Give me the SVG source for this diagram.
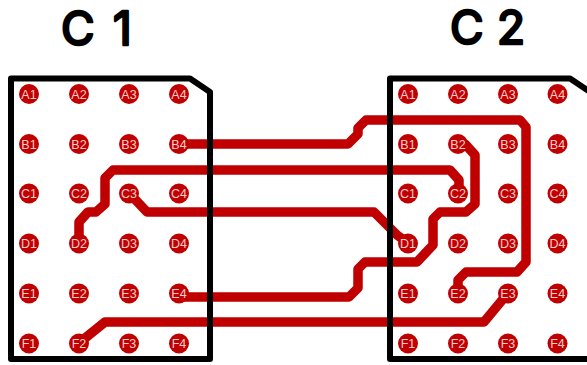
<svg xmlns="http://www.w3.org/2000/svg" width="587" height="365" viewBox="0 0 587 365">
<style>
.tr{fill:none;stroke:#c00000;stroke-width:9.500;stroke-linejoin:round;stroke-linecap:round}
.box{fill:none;stroke:#000;stroke-width:6;stroke-linejoin:round}
.pad{fill:#c00000}
.pl{font-family:"Liberation Sans",Arial,sans-serif;font-size:12.500px;fill:#ffcccc;text-anchor:middle}
.ti{font-family:Inter,sans-serif;font-size:46px;fill:#000;stroke:#000;stroke-width:2.500px;stroke-linejoin:round}
</style>
<rect width="587" height="365" fill="#fff"/>
<g id="connectors">
<path class="tr" d="M179,144H348L358,134V128L366,120H520L526,127V262L517,272H466L458,280V293"/>
<path class="tr" d="M79,243V222L88,212H96L105,204V178L113,170H450L459,180V193"/>
<path class="tr" d="M129,193L147,212H374L397,235L408,243"/>
<path class="tr" d="M458,144H465L475,155V204L466,212H440L433,219V245L417,262H365L358,269V288L349,297H179"/>
<path class="tr" d="M508,293L484,322H105L79,343"/>
</g>
<g id="C1">
<path class="box" d="M11,78.500H190L210,92V359H11Z"/>
<text class="ti" x="61 113" y="45">C1</text>
<g id="C1-A1"><circle class="pad" cx="29" cy="94" r="10"/><text class="pl" x="29" y="98.500">A1</text></g>
<g id="C1-A2"><circle class="pad" cx="79" cy="94" r="10"/><text class="pl" x="79" y="98.500">A2</text></g>
<g id="C1-A3"><circle class="pad" cx="129" cy="94" r="10"/><text class="pl" x="129" y="98.500">A3</text></g>
<g id="C1-A4"><circle class="pad" cx="179" cy="94" r="10"/><text class="pl" x="179" y="98.500">A4</text></g>
<g id="C1-B1"><circle class="pad" cx="29" cy="144" r="10"/><text class="pl" x="29" y="148.500">B1</text></g>
<g id="C1-B2"><circle class="pad" cx="79" cy="144" r="10"/><text class="pl" x="79" y="148.500">B2</text></g>
<g id="C1-B3"><circle class="pad" cx="129" cy="144" r="10"/><text class="pl" x="129" y="148.500">B3</text></g>
<g id="C1-B4"><circle class="pad" cx="179" cy="144" r="10"/><text class="pl" x="179" y="148.500">B4</text></g>
<g id="C1-C1"><circle class="pad" cx="29" cy="193.500" r="10"/><text class="pl" x="29" y="198">C1</text></g>
<g id="C1-C2"><circle class="pad" cx="79" cy="193.500" r="10"/><text class="pl" x="79" y="198">C2</text></g>
<g id="C1-C3"><circle class="pad" cx="129" cy="193.500" r="10"/><text class="pl" x="129" y="198">C3</text></g>
<g id="C1-C4"><circle class="pad" cx="179" cy="193.500" r="10"/><text class="pl" x="179" y="198">C4</text></g>
<g id="C1-D1"><circle class="pad" cx="29" cy="243.500" r="10"/><text class="pl" x="29" y="248">D1</text></g>
<g id="C1-D2"><circle class="pad" cx="79" cy="243.500" r="10"/><text class="pl" x="79" y="248">D2</text></g>
<g id="C1-D3"><circle class="pad" cx="129" cy="243.500" r="10"/><text class="pl" x="129" y="248">D3</text></g>
<g id="C1-D4"><circle class="pad" cx="179" cy="243.500" r="10"/><text class="pl" x="179" y="248">D4</text></g>
<g id="C1-E1"><circle class="pad" cx="29" cy="293.500" r="10"/><text class="pl" x="29" y="298">E1</text></g>
<g id="C1-E2"><circle class="pad" cx="79" cy="293.500" r="10"/><text class="pl" x="79" y="298">E2</text></g>
<g id="C1-E3"><circle class="pad" cx="129" cy="293.500" r="10"/><text class="pl" x="129" y="298">E3</text></g>
<g id="C1-E4"><circle class="pad" cx="179" cy="293.500" r="10"/><text class="pl" x="179" y="298">E4</text></g>
<g id="C1-F1"><circle class="pad" cx="29" cy="343.500" r="10"/><text class="pl" x="29" y="348">F1</text></g>
<g id="C1-F2"><circle class="pad" cx="79" cy="343.500" r="10"/><text class="pl" x="79" y="348">F2</text></g>
<g id="C1-F3"><circle class="pad" cx="129" cy="343.500" r="10"/><text class="pl" x="129" y="348">F3</text></g>
<g id="C1-F4"><circle class="pad" cx="179" cy="343.500" r="10"/><text class="pl" x="179" y="348">F4</text></g>
</g>
<g id="C2">
<path class="box" d="M390,78.500H570L590,92V359H390Z"/>
<text class="ti" x="450 497" y="43.500">C2</text>
<g id="C2-A1"><circle class="pad" cx="408" cy="94" r="10"/><text class="pl" x="408" y="98.500">A1</text></g>
<g id="C2-A2"><circle class="pad" cx="458" cy="94" r="10"/><text class="pl" x="458" y="98.500">A2</text></g>
<g id="C2-A3"><circle class="pad" cx="508" cy="94" r="10"/><text class="pl" x="508" y="98.500">A3</text></g>
<g id="C2-A4"><circle class="pad" cx="557.500" cy="94" r="10"/><text class="pl" x="557.500" y="98.500">A4</text></g>
<g id="C2-B1"><circle class="pad" cx="408" cy="144" r="10"/><text class="pl" x="408" y="148.500">B1</text></g>
<g id="C2-B2"><circle class="pad" cx="458" cy="144" r="10"/><text class="pl" x="458" y="148.500">B2</text></g>
<g id="C2-B3"><circle class="pad" cx="508" cy="144" r="10"/><text class="pl" x="508" y="148.500">B3</text></g>
<g id="C2-B4"><circle class="pad" cx="557.500" cy="144" r="10"/><text class="pl" x="557.500" y="148.500">B4</text></g>
<g id="C2-C1"><circle class="pad" cx="408" cy="193.500" r="10"/><text class="pl" x="408" y="198">C1</text></g>
<g id="C2-C2"><circle class="pad" cx="458" cy="193.500" r="10"/><text class="pl" x="458" y="198">C2</text></g>
<g id="C2-C3"><circle class="pad" cx="508" cy="193.500" r="10"/><text class="pl" x="508" y="198">C3</text></g>
<g id="C2-C4"><circle class="pad" cx="557.500" cy="193.500" r="10"/><text class="pl" x="557.500" y="198">C4</text></g>
<g id="C2-D1"><circle class="pad" cx="408" cy="243.500" r="10"/><text class="pl" x="408" y="248">D1</text></g>
<g id="C2-D2"><circle class="pad" cx="458" cy="243.500" r="10"/><text class="pl" x="458" y="248">D2</text></g>
<g id="C2-D3"><circle class="pad" cx="508" cy="243.500" r="10"/><text class="pl" x="508" y="248">D3</text></g>
<g id="C2-D4"><circle class="pad" cx="557.500" cy="243.500" r="10"/><text class="pl" x="557.500" y="248">D4</text></g>
<g id="C2-E1"><circle class="pad" cx="408" cy="293.500" r="10"/><text class="pl" x="408" y="298">E1</text></g>
<g id="C2-E2"><circle class="pad" cx="458" cy="293.500" r="10"/><text class="pl" x="458" y="298">E2</text></g>
<g id="C2-E3"><circle class="pad" cx="508" cy="293.500" r="10"/><text class="pl" x="508" y="298">E3</text></g>
<g id="C2-E4"><circle class="pad" cx="557.500" cy="293.500" r="10"/><text class="pl" x="557.500" y="298">E4</text></g>
<g id="C2-F1"><circle class="pad" cx="408" cy="343.500" r="10"/><text class="pl" x="408" y="348">F1</text></g>
<g id="C2-F2"><circle class="pad" cx="458" cy="343.500" r="10"/><text class="pl" x="458" y="348">F2</text></g>
<g id="C2-F3"><circle class="pad" cx="508" cy="343.500" r="10"/><text class="pl" x="508" y="348">F3</text></g>
<g id="C2-F4"><circle class="pad" cx="557.500" cy="343.500" r="10"/><text class="pl" x="557.500" y="348">F4</text></g>
</g>
</svg>
